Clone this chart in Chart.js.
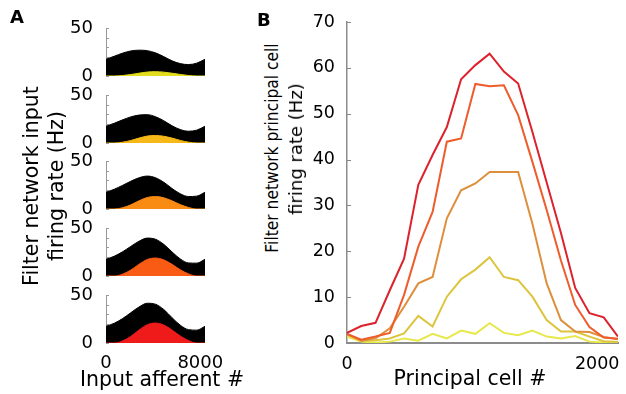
<!DOCTYPE html>
<html>
<head>
<meta charset="utf-8">
<script src="https://cdn.jsdelivr.net/npm/chart.js@4.4.0/dist/chart.umd.min.js"></script>
<style>
  body { margin: 0; background: #fff; }
  #fig { position: relative; width: 626px; height: 394px; overflow: hidden; font-family: "DejaVu Sans", sans-serif; }
  canvas { position: absolute; }
  .txt { position: absolute; white-space: nowrap; color: #000; line-height: 1; }
  .rot { transform: translate(-50%, -50%) rotate(-90deg); }
  .panel { font-weight: bold; font-size: 18px; }
</style>
</head>
<body>
<div id="fig">
  <canvas id="a0"></canvas>
  <canvas id="a1"></canvas>
  <canvas id="a2"></canvas>
  <canvas id="a3"></canvas>
  <canvas id="a4"></canvas>
  <canvas id="b"></canvas>

  <div class="txt panel" style="left:10px;top:8px">A</div>
  <div class="txt panel" style="left:257px;top:11px">B</div>

  <div class="txt rot" style="left:31px;top:186px;font-size:20.5px">Filter network input</div>
  <div class="txt rot" style="left:56px;top:186px;font-size:20.5px">firing rate (Hz)</div>
  <div class="txt" style="left:162px;top:369px;transform:translateX(-50%);font-size:20.5px">Input afferent #</div>

  <div class="txt" style="left:272px;top:148px;font-size:18px;transform:translate(-50%,-50%) rotate(-90deg) scaleX(0.86)">Filter network principal cell</div>
  <div class="txt rot" style="left:296px;top:149px;font-size:18px">firing rate (Hz)</div>
  <div class="txt" style="left:470px;top:368px;transform:translateX(-50%);font-size:20.5px">Principal cell #</div>
</div>

<script>
// panel A: input afferent index and firing rates (Hz)
const afferentX = [0, 700, 1400, 2100, 2800, 3500, 4200, 4900, 5600, 6300, 7000, 7700, 8400];
const totalInput1 = [17.4, 20.6, 23.8, 26.1, 26.9, 26.4, 24.1, 20.2, 15.8, 12.9, 11.9, 13.4, 17.4];
const totalInput2 = [17.4, 20.6, 24.1, 27.2, 29.1, 29.5, 27.4, 23.2, 18.0, 14.0, 12.3, 13.4, 17.4];
const totalInput3 = [17.4, 20.6, 24.6, 28.9, 32.5, 34.3, 32.6, 27.9, 21.4, 15.9, 13.0, 13.4, 17.4];
const totalInput4 = [17.4, 20.6, 25.2, 30.8, 36.2, 39.5, 38.3, 33.0, 25.1, 17.8, 13.6, 13.4, 17.4];
const totalInput5 = [17.4, 20.6, 25.4, 31.5, 37.5, 41.4, 40.4, 34.9, 26.4, 18.6, 13.9, 13.4, 17.4];
const filtered1 = [0, 0, 0.5, 1.5, 2.9, 4.1, 4.5, 4.0, 2.9, 1.6, 0.5, 0, 0];
const filtered2 = [0, 0, 0.8, 2.6, 5.1, 7.2, 7.8, 7.0, 5.1, 2.7, 0.9, 0, 0];
const filtered3 = [0, 0, 1.3, 4.3, 8.5, 12.0, 13.0, 11.7, 8.5, 4.6, 1.6, 0, 0];
const filtered4 = [0, 0, 1.9, 6.2, 12.2, 17.2, 18.7, 16.8, 12.2, 6.5, 2.2, 0, 0];
const filtered5 = [0, 0, 2.1, 6.9, 13.5, 19.1, 20.8, 18.7, 13.5, 7.3, 2.5, 0, 0];
const afferentTicks = [0, 8000];
const inputRateTicks = [0, 50];

// panel B: principal cell index and firing rates (Hz)
const cellX = [0, 114, 228, 342, 456, 570, 684, 798, 912, 1026, 1140, 1254, 1368, 1482, 1596, 1710, 1824, 1938, 2052, 2166];
const rate1 = [1.4, 0.3, 0.1, 0.3, 1.0, 0.5, 2.0, 1.0, 2.7, 2.0, 4.3, 2.2, 1.7, 2.7, 1.4, 1.0, 1.5, 0.3, 0.1, 0.1];
const rate2 = [1.8, 0.5, 0.6, 1.0, 2.1, 5.9, 3.6, 10.1, 13.9, 16.0, 18.7, 14.4, 13.7, 10.1, 5.0, 2.5, 2.5, 1.4, 0.4, 0.2];
const rate3 = [2.0, 0.5, 1.0, 3.2, 7.9, 13.0, 14.4, 27.2, 33.3, 34.8, 37.3, 37.3, 37.3, 26.0, 13.0, 5.0, 2.5, 2.4, 1.3, 0.8];
const rate4 = [2.0, 0.7, 1.4, 2.2, 10.5, 21.0, 28.6, 43.9, 44.6, 56.5, 56.0, 56.2, 49.7, 39.5, 29.0, 18.0, 8.3, 3.5, 1.2, 0.9];
const rate5 = [2.2, 3.7, 4.4, 11.5, 18.4, 34.5, 41.0, 47.1, 57.5, 60.6, 63.1, 59.2, 56.6, 46.0, 35.0, 24.0, 12.0, 6.5, 5.6, 1.4];
const cellTicks = [0, 2000];

const FONT = "DejaVu Sans";
const totals = [totalInput1, totalInput2, totalInput3, totalInput4, totalInput5];
const filtereds = [filtered1, filtered2, filtered3, filtered4, filtered5];
const fillColors = ["#e4dd1e", "#f6b718", "#f98a12", "#f95a14", "#ef1b1b"];
const lineColors = ["#e6e84c", "#dcc53c", "#de8f3c", "#ee5c2c", "#dc222c"];
const aTops = [28, 95, 161, 228, 295];

const pts = (xs, ys) => xs.map((x, i) => ({ x: x, y: ys[i] }));
const plain = v => String(v); // no thousands separator, 8000 not 8,000

// small tick marks pointing into the plot, like the matplotlib original
const inwardTicks = {
  id: "inwardTicks",
  beforeDatasetsDraw(chart, args, opts) {
    const s = chart.scales.y, ctx = chart.ctx;
    ctx.save();
    ctx.strokeStyle = opts.color;
    ctx.lineWidth = 1;
    opts.values.forEach(v => {
      const y = Math.round(s.getPixelForValue(v)) + 0.5;
      ctx.beginPath();
      ctx.moveTo(s.right, y);
      ctx.lineTo(s.right + opts.len, y);
      ctx.stroke();
    });
    ctx.restore();
  }
};

// fixed axis sizes so the plot area lands exactly where it should
const fixWidth = w => s => { s.width = w; s.paddingTop = 0; s.paddingBottom = 0; };
const fixHeight = h => s => { s.height = h; s.paddingLeft = 0; s.paddingRight = 0; };

function smallPanel(k) {
  const cv = document.getElementById("a" + k);
  const last = k === 4;
  const padTop = 12, axisH = last ? 30 : 6;
  cv.width = 240;
  cv.height = padTop + 48 + axisH;
  cv.style.left = "0px";
  cv.style.top = (aTops[k] - padTop) + "px";
  new Chart(cv, {
    type: "line",
    data: {
      datasets: [
        { data: pts(afferentX, filtereds[k]), fill: "origin", backgroundColor: fillColors[k],
          borderColor: fillColors[k], borderWidth: 1, pointRadius: 0, cubicInterpolationMode: "monotone" },
        { data: pts(afferentX, totals[k]), fill: "origin", backgroundColor: "#000",
          borderColor: "#000", borderWidth: 1, pointRadius: 0, cubicInterpolationMode: "monotone" }
      ]
    },
    options: {
      responsive: false, animation: false, devicePixelRatio: 1,
      layout: { padding: { top: padTop, right: 35, left: 0, bottom: 0 } },
      plugins: {
        legend: { display: false }, tooltip: { enabled: false },
        inwardTicks: { values: [0, 10, 20, 30, 40, 50], len: 3, color: "#999" }
      },
      scales: {
        x: {
          type: "linear", min: 0, max: 8400,
          grid: { display: false }, border: { display: false },
          ticks: { display: last, color: "#000", font: { family: FONT, size: 18 }, padding: 2, maxRotation: 0, callback: plain },
          afterBuildTicks: s => { s.ticks = afferentTicks.map(v => ({ value: v })); },
          afterFit: fixHeight(axisH)
        },
        y: {
          min: 0, max: 50,
          grid: { display: false }, border: { color: "#999", width: 1 },
          ticks: { color: "#000", font: { family: FONT, size: 18 }, padding: 5, callback: plain },
          afterBuildTicks: s => { s.ticks = inputRateTicks.map(v => ({ value: v })); },
          afterFit: fixWidth(106)
        }
      }
    },
    plugins: [inwardTicks]
  });
}

for (let k = 0; k < 5; k++) smallPanel(k);

const cb = document.getElementById("b");
cb.width = 326;
cb.height = 394;
cb.style.left = "300px";
cb.style.top = "0px";
const rates = [rate5, rate4, rate3, rate2, rate1];
const rateColors = [lineColors[4], lineColors[3], lineColors[2], lineColors[1], lineColors[0]];
new Chart(cb, {
  type: "line",
  data: {
    datasets: rates.map((r, i) => ({
      data: pts(cellX, r), borderColor: rateColors[i], borderWidth: 2,
      pointRadius: 0, fill: false, tension: 0
    }))
  },
  options: {
    responsive: false, animation: false, devicePixelRatio: 1,
    layout: { padding: { top: 22, right: 8, left: 0, bottom: 0 } },
    plugins: {
      legend: { display: false }, tooltip: { enabled: false },
      inwardTicks: { values: [0, 10, 20, 30, 40, 50, 60, 70], len: 4, color: "#888" }
    },
    scales: {
      x: {
        type: "linear", min: 0, max: 2166,
        grid: { display: false }, border: { color: "#8c8c8c", width: 2 },
        ticks: { color: "#000", font: { family: FONT, size: 17.5 }, padding: 3, maxRotation: 0, callback: plain },
        afterBuildTicks: s => { s.ticks = cellTicks.map(v => ({ value: v })); },
        afterFit: fixHeight(51)
      },
      y: {
        min: 0, max: 70,
        grid: { display: false }, border: { color: "#8c8c8c", width: 1.5 },
        ticks: { stepSize: 10, color: "#000", font: { family: FONT, size: 17.5 }, padding: 4, callback: plain },
        afterFit: fixWidth(47)
      }
    }
  },
  plugins: [inwardTicks]
});
</script>
</body>
</html>
